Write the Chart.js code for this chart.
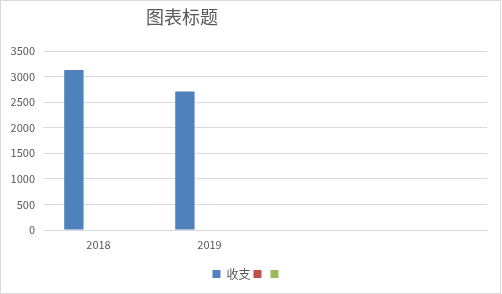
<!DOCTYPE html>
<html>
<head>
<meta charset="utf-8">
<script src="https://cdn.jsdelivr.net/npm/chart.js@4/dist/chart.umd.min.js"></script>
<style>
  html, body { margin: 0; padding: 0; background: #fff; }
  #wrap { position: relative; width: 502px; height: 294px; }
  #frame { position: absolute; left: 0; top: 0; width: 501px; height: 294px;
           box-sizing: border-box; border: 1px solid #d9d9d9; pointer-events: none; }
  canvas { position: absolute; left: 0; top: 0; }
</style>
</head>
<body>
<div id="wrap">
  <canvas id="c" width="502" height="294"></canvas>
  <div id="frame"></div>
</div>
<script>
// Chart content
const chartTitle = "图表标题";
const categories = ["2018", "2019", "", ""];
const seriesNames = ["收支", "", ""];
const seriesIncome = [3130, 2710, null, null];
const seriesB = [null, null, null, null];
const seriesC = [null, null, null, null];
const yTicks = [0, 500, 1000, 1500, 2000, 2500, 3000, 3500];

const FONT = "'Noto Sans CJK SC', 'Noto Sans', sans-serif";
const TEXT = "#595959";
const GRID = "#d9d9d9";

// Title drawn left of centre, as in the office-style layout
const titlePlugin = {
  id: "offsetTitle",
  afterDraw(chart) {
    const ctx = chart.ctx;
    ctx.save();
    ctx.font = "18px " + FONT;
    ctx.fillStyle = TEXT;
    ctx.textAlign = "center";
    ctx.textBaseline = "middle";
    ctx.fillText(chartTitle, 182, 17);
    ctx.restore();
  }
};

new Chart(document.getElementById("c"), {
  type: "bar",
  data: {
    labels: categories,
    datasets: [
      { label: seriesNames[0], data: seriesIncome, backgroundColor: "#4f81bd" },
      { label: seriesNames[1], data: seriesB, backgroundColor: "#c0504d" },
      { label: seriesNames[2], data: seriesC, backgroundColor: "#9bbb59" }
    ]
  },
  options: {
    responsive: false,
    animation: false,
    devicePixelRatio: 1,
    categoryPercentage: 0.665,
    barPercentage: 0.787,
    layout: { padding: { top: 51, right: 15, left: 10, bottom: 4 } },
    plugins: {
      title: { display: false },
      tooltip: { enabled: false },
      legend: {
        position: "bottom",
        labels: {
          boxWidth: 8,
          boxHeight: 8,
          padding: 3,
          color: TEXT,
          font: { family: FONT, size: 12 }
        }
      }
    },
    scales: {
      x: {
        grid: { display: false, drawTicks: false },
        border: { display: true, color: GRID },
        ticks: { color: TEXT, font: { family: FONT, size: 11 }, padding: 8, maxRotation: 0 },
        afterFit(s) { s.height = 35; }
      },
      y: {
        min: 0,
        max: 3500,
        afterBuildTicks(s) { s.ticks = yTicks.map(v => ({ value: v })); },
        grid: { color: GRID, drawTicks: false },
        border: { display: false },
        ticks: {
          color: TEXT,
          font: { family: FONT, size: 11 },
          padding: 8,
          callback: v => String(v)
        },
        afterFit(s) { s.width = 33; }
      }
    }
  },
  plugins: [titlePlugin]
});
</script>
</body>
</html>
